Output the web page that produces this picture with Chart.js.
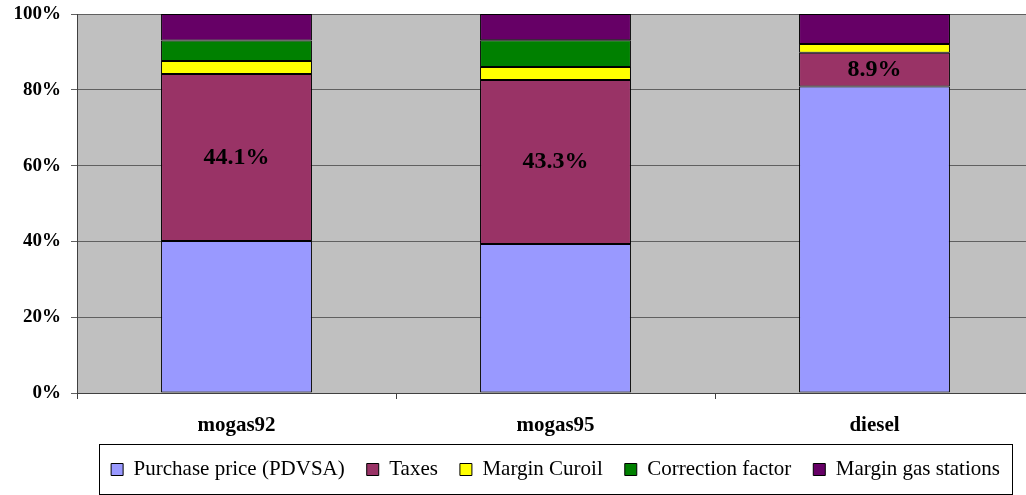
<!DOCTYPE html>
<html>
<head>
<meta charset="utf-8">
<script src="https://cdn.jsdelivr.net/npm/chart.js@4.4.0/dist/chart.umd.min.js"></script>
<style>
html, body { margin: 0; padding: 0; background: #fff; overflow: hidden; }
#wrap { width: 1034px; height: 495px; }
</style>
</head>
<body>
<div id="wrap"><canvas id="bar_chart" width="1034" height="495"></canvas></div>
<script>
var categories = ["mogas92", "mogas95", "diesel"];
var purchasePrice = [40.1, 39.3, 80.9];
var taxes = [44.1, 43.3, 8.9];
var marginCuroil = [3.4, 3.4, 2.3];
var correctionFactor = [5.4, 7.1, 0];
var marginGasStations = [7.0, 6.9, 7.9];
var yTicks = [0, 20, 40, 60, 80, 100];

var serif = "'Liberation Serif', 'Times New Roman', serif";
Chart.defaults.font.family = serif;
Chart.defaults.color = '#000';

// gray plot background
var plotBackground = {
  id: 'plotBackground',
  beforeDraw: function (chart) {
    var a = chart.chartArea, ctx = chart.ctx;
    ctx.save();
    ctx.fillStyle = '#c0c0c0';
    ctx.fillRect(a.left, a.top, a.right - a.left, a.bottom - a.top);
    ctx.restore();
  }
};

// percentage labels on the taxes segment
var taxLabels = {
  id: 'taxLabels',
  afterDatasetsDraw: function (chart) {
    var ctx = chart.ctx;
    var meta = chart.getDatasetMeta(1);
    ctx.save();
    ctx.font = "bold 24px " + serif;
    ctx.fillStyle = '#000';
    ctx.textAlign = 'center';
    ctx.textBaseline = 'middle';
    meta.data.forEach(function (bar, i) {
      ctx.fillText(taxes[i].toFixed(1) + '%', bar.x, (bar.y + bar.base) / 2);
    });
    ctx.restore();
  }
};

// frame round the legend
var legendFrame = {
  id: 'legendFrame',
  afterDraw: function (chart) {
    var boxes = chart.legend.legendHitBoxes;
    if (!boxes || !boxes.length) return;
    var left = Math.min.apply(null, boxes.map(function (b) { return b.left; }));
    var right = Math.max.apply(null, boxes.map(function (b) { return b.left + b.width; }));
    var cy = boxes[0].top + boxes[0].height / 2;
    var ctx = chart.ctx;
    ctx.save();
    ctx.strokeStyle = '#000';
    ctx.lineWidth = 1;
    ctx.strokeRect(Math.round(left - 12) + 0.5, Math.round(cy - 26) + 0.5, Math.round(right - left + 24), 50);
    ctx.restore();
  }
};

function series(label, data, color) {
  return {
    label: label,
    data: data,
    backgroundColor: color,
    borderColor: '#000',
    borderWidth: 1,
    borderSkipped: false,
    categoryPercentage: 1,
    barPercentage: 0.473
  };
}

new Chart(document.getElementById("bar_chart").getContext("2d"), {
  type: 'bar',
  data: {
    labels: categories,
    datasets: [
      series('Purchase price (PDVSA)', purchasePrice, '#9999ff'),
      series('Taxes', taxes, '#993366'),
      series('Margin Curoil', marginCuroil, '#ffff00'),
      series('Correction factor', correctionFactor, '#008000'),
      series('Margin gas stations', marginGasStations, '#660066')
    ]
  },
  plugins: [plotBackground, taxLabels, legendFrame],
  options: {
    responsive: false,
    devicePixelRatio: 1,
    animation: false,
    layout: { padding: { top: 14, left: 0, right: 0, bottom: 5 } },
    plugins: {
      tooltip: { enabled: false },
      legend: {
        position: 'bottom',
        fullSize: false,
        labels: {
          boxWidth: 12,
          boxHeight: 12,
          padding: 22,
          color: '#000',
          font: { family: serif, size: 21 }
        }
      }
    },
    scales: {
      x: {
        stacked: true,
        afterFit: function (s) { s.height = 44; },
        grid: { offset: true, drawOnChartArea: false, tickLength: 6, color: '#404040' },
        border: { color: '#404040' },
        ticks: { color: '#000', padding: 14, font: { family: serif, size: 21, weight: 'bold' } }
      },
      y: {
        stacked: true,
        min: 0,
        max: 100,
        afterFit: function (s) { s.width = 77; s.paddingTop = 0; s.paddingBottom = 0; },
        afterBuildTicks: function (s) { s.ticks = yTicks.map(function (v) { return { value: v }; }); },
        grid: { color: '#606060', tickLength: 6 },
        border: { color: '#404040' },
        ticks: {
          color: '#000',
          padding: 10,
          font: { family: serif, size: 19, weight: 'bold' },
          callback: function (v) { return v + '%'; }
        }
      }
    }
  }
});
</script>
</body>
</html>
